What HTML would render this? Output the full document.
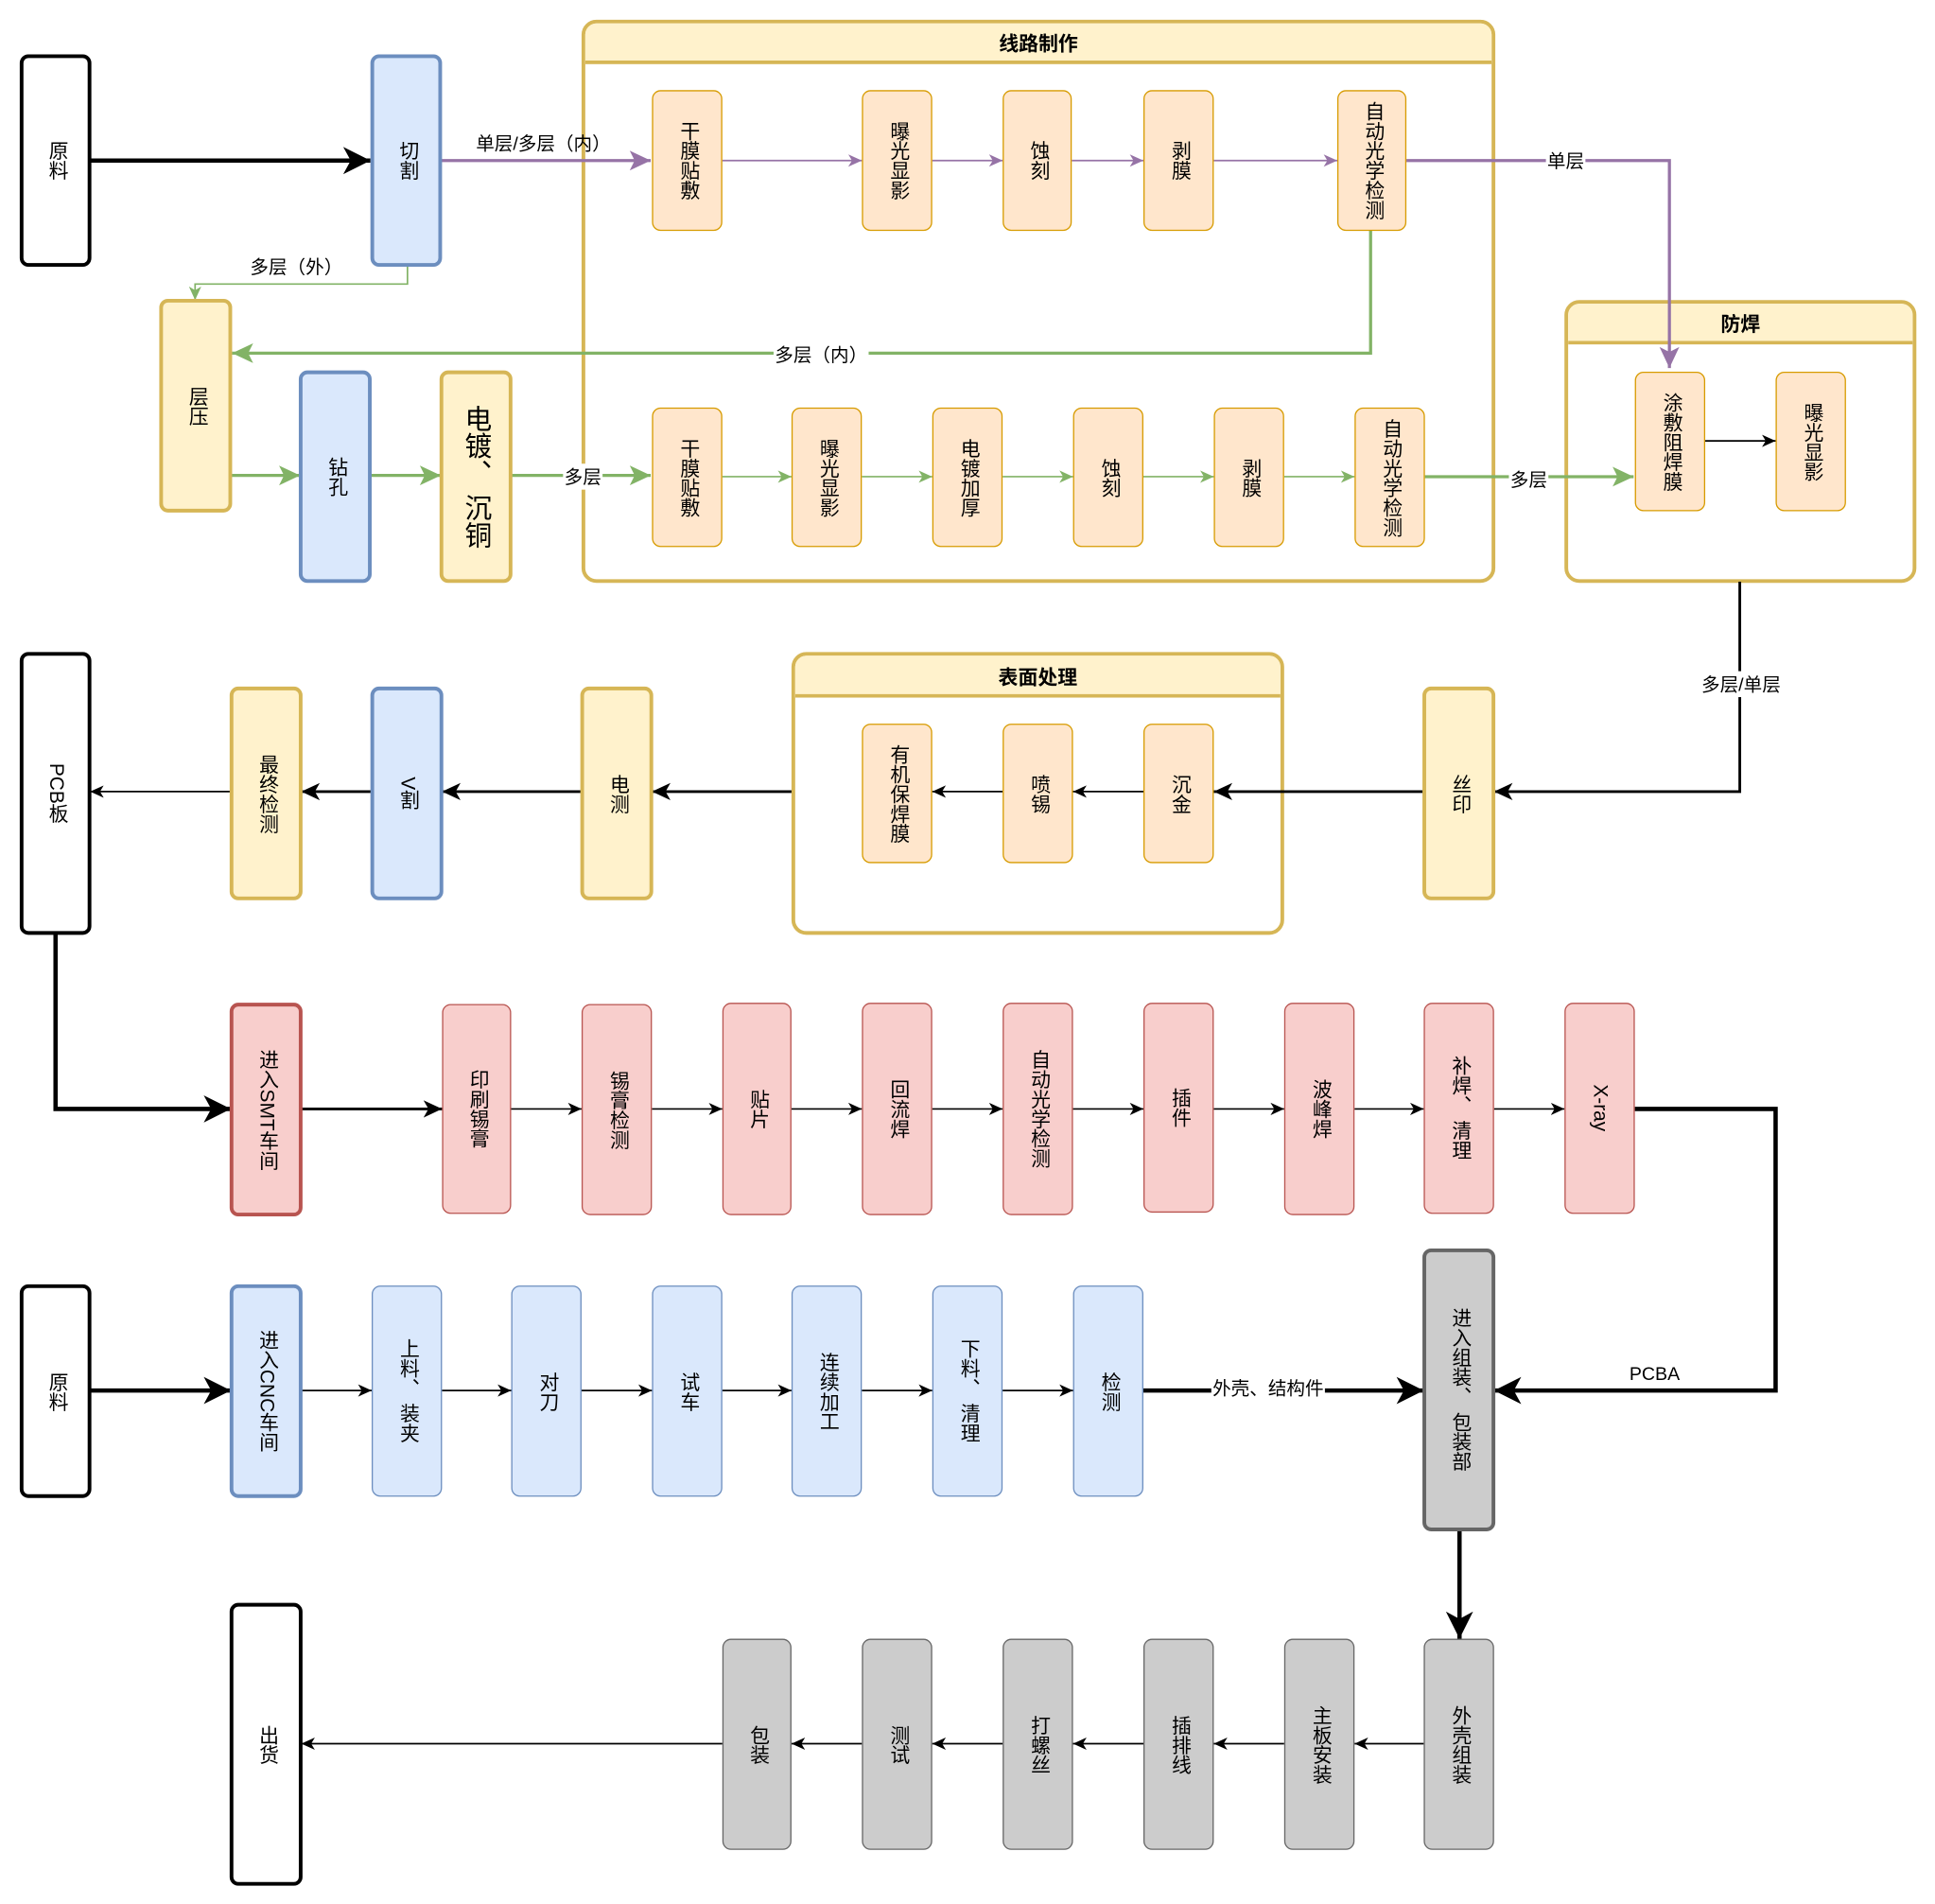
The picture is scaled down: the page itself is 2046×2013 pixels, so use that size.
<!DOCTYPE html>
<html><head><meta charset="utf-8">
<style>
html,body{margin:0;padding:0;background:#fff;}
body{width:2046px;height:2013px;overflow:hidden;position:relative;}
#w{position:absolute;left:0;top:0;width:1567px;height:1542px;transform:scale(1.3056);transform-origin:0 0;font-family:"Liberation Sans","Noto Sans CJK SC",sans-serif;color:#000;}
svg{position:absolute;left:0;top:0;}
.b{position:absolute;box-sizing:border-box;display:flex;align-items:center;justify-content:center;writing-mode:vertical-rl;border-radius:7px;font-size:16px;line-height:17px;}
.k{background:#fff;border:3px solid #000;}
.bl{background:#dae8fc;border:3px solid #6c8ebf;}
.bl1{background:#dae8fc;border:1px solid #6c8ebf;}
.y{background:#fff2cc;border:3px solid #d6b656;}
.o{background:#ffe6cc;border:1.5px solid #d79b00;}
.r{background:#f8cecc;border:1px solid #b85450;}
.r3{background:#f8cecc;border:3px solid #b85450;}
.g{background:#cccccc;border:1px solid #666;}
.g3{background:#cccccc;border:3px solid #666;}
.c{position:absolute;box-sizing:border-box;border:3px solid #d6b656;border-radius:12px;background:#fff;}
.c .h{position:absolute;left:0;right:0;top:0;background:#fff2cc;border-bottom:3px solid #d6b656;border-radius:9px 9px 0 0;font-weight:bold;font-size:16px;display:flex;align-items:center;justify-content:center;}
.l{position:absolute;transform:translate(-50%,-50%);white-space:nowrap;font-size:15px;}
.wb{background:#fff;padding:0 1px;}
</style></head><body><div id="w">
<div class="c" style="left:471px;top:16px;width:740px;height:456px;"><div class="h" style="height:30px;">线路制作</div></div>
<div class="c" style="left:1267px;top:243px;width:285px;height:229px;"><div class="h" style="height:30px;">防焊</div></div>
<div class="c" style="left:641px;top:528px;width:399px;height:229px;"><div class="h" style="height:31px;">表面处理</div></div>

<svg width="1567" height="1542" viewBox="0 0 1567 1542">
<defs>
<marker id="K" markerUnits="userSpaceOnUse" markerWidth="24" markerHeight="24" refX="22" refY="12" orient="auto"><path d="M0,1 L22,12 L0,23 L6,12 z" fill="#000"/></marker>
<marker id="k2" markerUnits="userSpaceOnUse" markerWidth="16" markerHeight="16" refX="15" refY="8" orient="auto"><path d="M0,1 L15,8 L0,15 L4,8 z" fill="#000"/></marker>
<marker id="k" markerUnits="userSpaceOnUse" markerWidth="12" markerHeight="12" refX="11" refY="6" orient="auto"><path d="M0,1 L11,6 L0,11 L3,6 z" fill="#000"/></marker>
<marker id="P" markerUnits="userSpaceOnUse" markerWidth="18" markerHeight="18" refX="17" refY="9" orient="auto"><path d="M0,1 L17,9 L0,17 L4,9 z" fill="#9673a6"/></marker>
<marker id="p" markerUnits="userSpaceOnUse" markerWidth="12" markerHeight="12" refX="11" refY="6" orient="auto"><path d="M0,1 L11,6 L0,11 L3,6 z" fill="#9673a6"/></marker>
<marker id="G" markerUnits="userSpaceOnUse" markerWidth="18" markerHeight="18" refX="17" refY="9" orient="auto"><path d="M0,1 L17,9 L0,17 L4,9 z" fill="#82b366"/></marker>
<marker id="gg" markerUnits="userSpaceOnUse" markerWidth="12" markerHeight="12" refX="11" refY="6" orient="auto"><path d="M0,1 L11,6 L0,11 L3,6 z" fill="#82b366"/></marker>
</defs>
<g fill="none" stroke="#000" stroke-width="3.5" marker-end="url(#K)">
<path d="M73,130 L300,130"/><path d="M45,756 L45,898 L187,898"/><path d="M73,1126 L187,1126"/>
<path d="M1324,898 L1438,898 L1438,1126 L1210,1126"/><path d="M926,1126 L1153,1126"/><path d="M1182,1239 L1182,1327"/>
</g>
<g fill="none" stroke="#000" stroke-width="2.2" marker-end="url(#k2)">
<path d="M1409,471 L1409,641 L1210,641"/><path d="M1153,641 L983,641"/><path d="M641,641 L528,641"/><path d="M471,641 L358,641"/><path d="M301,641 L244,641"/><path d="M244,898 L358,898"/>
</g>
<g fill="none" stroke="#000" stroke-width="1.3" marker-end="url(#k)">
<path d="M187,641 L73,641"/><path d="M926,641 L869,641"/><path d="M812,641 L755,641"/><path d="M1381,357 L1438,357"/>
<path d="M414,898 L471,898"/><path d="M528,898 L585,898"/><path d="M641,898 L698,898"/><path d="M755,898 L812,898"/><path d="M869,898 L926,898"/><path d="M983,898 L1040,898"/><path d="M1097,898 L1153,898"/><path d="M1210,898 L1267,898"/>
<path d="M244,1126 L301,1126"/><path d="M358,1126 L414,1126"/><path d="M471,1126 L528,1126"/><path d="M585,1126 L641,1126"/><path d="M698,1126 L755,1126"/><path d="M812,1126 L869,1126"/>
<path d="M1153,1412 L1097,1412"/><path d="M1040,1412 L983,1412"/><path d="M926,1412 L869,1412"/><path d="M812,1412 L755,1412"/><path d="M698,1412 L641,1412"/><path d="M585,1412 L244,1412"/>
</g>
<g fill="none" stroke="#9673a6" stroke-width="2.5" marker-end="url(#P)">
<path d="M357,130 L527,130"/><path d="M1139,130 L1352,130 L1352,298"/>
</g>
<g fill="none" stroke="#9673a6" stroke-width="1.3" marker-end="url(#p)">
<path d="M585,130 L698,130"/><path d="M755,130 L812,130"/><path d="M868,130 L926,130"/><path d="M983,130 L1083,130"/>
</g>
<g fill="none" stroke="#82b366" stroke-width="2.5" marker-end="url(#G)">
<path d="M1110,186 L1110,286 L188,286"/><path d="M187,385 L243,385"/><path d="M300,385 L357,385"/><path d="M414,385 L527,385"/><path d="M1154,386 L1323,386"/>
</g>
<g fill="none" stroke="#82b366" stroke-width="1.3" marker-end="url(#gg)">
<path d="M330,215 L330,230 L158,230 L158,243"/>
<path d="M585,386 L641,386"/><path d="M698,386 L755,386"/><path d="M812,386 L869,386"/><path d="M926,386 L983,386"/><path d="M1040,386 L1097,386"/>
</g>
</svg>

<div class="b k" style="left:16px;top:44px;width:58px;height:172px;">原料</div>
<div class="b bl" style="left:300px;top:44px;width:58px;height:172px;">切割</div>
<div class="b o" style="left:528px;top:73px;width:57px;height:114px;">干膜贴敷</div>
<div class="b o" style="left:698px;top:73px;width:57px;height:114px;">曝光显影</div>
<div class="b o" style="left:812px;top:73px;width:56px;height:114px;">蚀刻</div>
<div class="b o" style="left:926px;top:73px;width:57px;height:114px;">剥膜</div>
<div class="b o" style="left:1083px;top:73px;width:56px;height:114px;">自动光学检测</div>
<div class="b y" style="left:129px;top:242px;width:59px;height:173px;">层压</div>
<div class="b bl" style="left:242px;top:300px;width:59px;height:172px;">钻孔</div>
<div class="b y" style="left:356px;top:300px;width:59px;height:172px;font-size:22px;line-height:24px;">电镀、 沉铜</div>
<div class="b o" style="left:528px;top:330px;width:57px;height:113px;">干膜贴敷</div>
<div class="b o" style="left:641px;top:330px;width:57px;height:113px;">曝光显影</div>
<div class="b o" style="left:755px;top:330px;width:57px;height:113px;">电镀加厚</div>
<div class="b o" style="left:869px;top:330px;width:57px;height:113px;">蚀刻</div>
<div class="b o" style="left:983px;top:330px;width:57px;height:113px;">剥膜</div>
<div class="b o" style="left:1097px;top:330px;width:57px;height:113px;">自动光学检测</div>
<div class="b o" style="left:1324px;top:301px;width:57px;height:113px;">涂敷阻焊膜</div>
<div class="b o" style="left:1438px;top:301px;width:57px;height:113px;">曝光显影</div>
<div class="b k" style="left:16px;top:528px;width:58px;height:229px;">PCB板</div>
<div class="b y" style="left:186px;top:556px;width:59px;height:173px;">最终检测</div>
<div class="b bl" style="left:300px;top:556px;width:59px;height:173px;">V割</div>
<div class="b y" style="left:470px;top:556px;width:59px;height:173px;">电测</div>
<div class="b o" style="left:698px;top:586px;width:57px;height:113px;">有机保焊膜</div>
<div class="b o" style="left:812px;top:586px;width:57px;height:113px;">喷锡</div>
<div class="b o" style="left:926px;top:586px;width:57px;height:113px;">沉金</div>
<div class="b y" style="left:1152px;top:556px;width:59px;height:173px;">丝印</div>
<div class="b r3" style="left:186px;top:812px;width:59px;height:173px;">进入SMT车间</div>
<div class="b r" style="left:358px;top:813px;width:56px;height:170px;">印刷锡膏</div>
<div class="b r" style="left:471px;top:813px;width:57px;height:171px;">锡膏检测</div>
<div class="b r" style="left:585px;top:812px;width:56px;height:172px;">贴片</div>
<div class="b r" style="left:698px;top:812px;width:57px;height:172px;">回流焊</div>
<div class="b r" style="left:812px;top:812px;width:57px;height:172px;">自动光学检测</div>
<div class="b r" style="left:926px;top:812px;width:57px;height:170px;">插件</div>
<div class="b r" style="left:1040px;top:812px;width:57px;height:172px;">波峰焊</div>
<div class="b r" style="left:1153px;top:812px;width:57px;height:171px;">补焊、 清理</div>
<div class="b r" style="left:1267px;top:812px;width:57px;height:171px;">X-ray</div>
<div class="b k" style="left:16px;top:1040px;width:58px;height:173px;">原料</div>
<div class="b bl" style="left:186px;top:1040px;width:59px;height:173px;">进入CNC车间</div>
<div class="b bl1" style="left:301px;top:1041px;width:57px;height:171px;">上料、 装夹</div>
<div class="b bl1" style="left:414px;top:1041px;width:57px;height:171px;">对刀</div>
<div class="b bl1" style="left:528px;top:1041px;width:57px;height:171px;">试车</div>
<div class="b bl1" style="left:641px;top:1041px;width:57px;height:171px;">连续加工</div>
<div class="b bl1" style="left:755px;top:1041px;width:57px;height:171px;">下料、 清理</div>
<div class="b bl1" style="left:869px;top:1041px;width:57px;height:171px;">检测</div>
<div class="b g3" style="left:1152px;top:1011px;width:59px;height:229px;">进入组装、 包装部</div>
<div class="b g" style="left:1153px;top:1327px;width:57px;height:171px;">外壳组装</div>
<div class="b g" style="left:1040px;top:1327px;width:57px;height:171px;">主板安装</div>
<div class="b g" style="left:926px;top:1327px;width:57px;height:171px;">插排线</div>
<div class="b g" style="left:812px;top:1327px;width:57px;height:171px;">打螺丝</div>
<div class="b g" style="left:698px;top:1327px;width:57px;height:171px;">测试</div>
<div class="b g" style="left:585px;top:1327px;width:56px;height:171px;">包装</div>
<div class="b k" style="left:186px;top:1298px;width:59px;height:229px;">出货</div>

<div class="l" style="left:440px;top:116px;">单层/多层（内）</div>
<div class="l" style="left:240px;top:216px;">多层（外）</div>
<div class="l wb" style="left:665px;top:287px;">多层（内）</div>
<div class="l wb" style="left:472px;top:386px;">多层</div>
<div class="l wb" style="left:1268px;top:130px;">单层</div>
<div class="l wb" style="left:1238px;top:388px;">多层</div>
<div class="l wb" style="left:1410px;top:554px;">多层/单层</div>
<div class="l" style="left:1340px;top:1113px;">PCBA</div>
<div class="l wb" style="left:1027px;top:1124px;">外壳、结构件</div>
</div></body></html>
